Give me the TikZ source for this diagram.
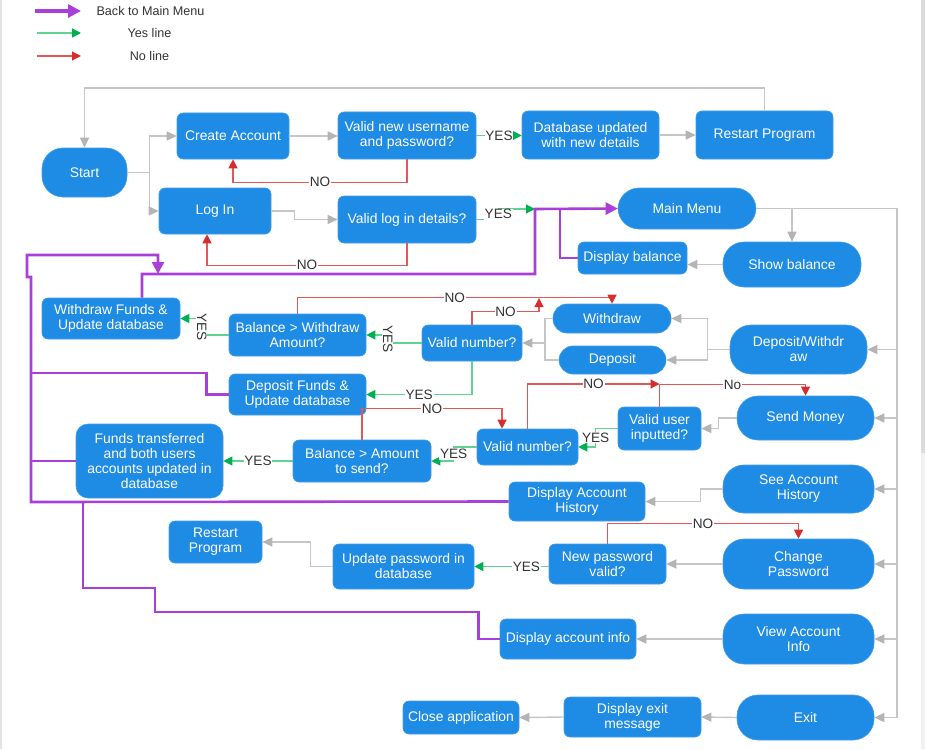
\documentclass[tikz,border=0pt]{standalone}
\usepackage{fontspec}
\setmainfont{Liberation Sans}
\usetikzlibrary{arrows.meta,calc}

\definecolor{boxblue}{RGB}{30,139,229}
\definecolor{boxedge}{RGB}{64,156,236}
\definecolor{flowgrey}{RGB}{198,198,198}
\definecolor{tipgrey}{RGB}{180,180,180}
\definecolor{nored}{RGB}{226,88,88}
\definecolor{tipred}{RGB}{214,45,45}
\definecolor{yesgreen}{RGB}{96,210,146}
\definecolor{tipgreen}{RGB}{0,176,80}
\definecolor{backpurple}{RGB}{169,62,216}
\definecolor{labelgrey}{RGB}{51,51,51}
\definecolor{edgegrey}{RGB}{228,228,228}
\definecolor{barlight}{RGB}{241,241,241}
\definecolor{bardark}{RGB}{218,218,218}

\begin{document}
\begin{tikzpicture}[x=1pt,y=-1pt,
  font=\fontsize{13.9}{15}\selectfont,
  sz/.style 2 args={minimum width=#1pt,minimum height=#2pt},
  box/.style={fill=boxblue,draw=boxedge,line width=0.6pt,rounded corners=6pt,
    text=white,align=center,inner sep=0pt},
  pill/.style={box,rounded corners=21pt},
  flow/.style={draw=flowgrey,line width=1.4pt},
  flowarrow/.style={flow,-{Triangle[length=10pt,width=9pt,color=tipgrey]}},
  noline/.style={draw=nored,line width=1.2pt,-{Triangle[length=9pt,width=9pt,color=tipred]}},
  yesline/.style={draw=yesgreen,line width=1.2pt,-{Triangle[length=9pt,width=9pt,color=tipgreen]}},
  backline/.style={draw=backpurple,line width=2.6pt},
  backarrow/.style={backline,-{Triangle[length=12pt,width=12pt]}},
  lbl/.style={fill=white,text=labelgrey,inner sep=0.8pt,font=\fontsize{13.6}{15}\selectfont},
  legendtext/.style={text=labelgrey,inner sep=0pt,font=\fontsize{12.6}{14}\selectfont}
]
\useasboundingbox (0,0) rectangle (925,749);

% window edges and scroll bar
\fill[edgegrey] (0,0) rectangle (2,749);
\fill[barlight] (921,0) rectangle (925,749);
\fill[bardark] (921,0) rectangle (925,453);

% ---------- legend ----------
\coordinate (lgpa) at (35,11);   \coordinate (lgpb) at (81,11);
\coordinate (lgga) at (37,33);   \coordinate (lggb) at (81,33);
\coordinate (lgra) at (37,56);   \coordinate (lgrb) at (81,56);
\draw[draw=backpurple,line width=3.6pt,-{Triangle[length=13pt,width=13pt]}] (lgpa) -- (lgpb);
\draw[yesline] (lgga) -- (lggb);
\draw[noline] (lgra) -- (lgrb);
\node[legendtext] (lgback) at (150.5,11) {Back to Main Menu};
\node[legendtext] (lgyes) at (149.5,33) {Yes line};
\node[legendtext] (lgno) at (149.5,56) {No line};

% ---------- nodes ----------
\node[pill,sz={85}{49}]  (start)     at (84.5,172.5) {Start};
\node[box,sz={112}{46}]  (create)    at (233,136)    {Create Account};
\node[box,sz={138}{47}]  (validnew)  at (407,135.5)  {Valid new username\\and password?};
\node[box,sz={112}{46}]  (login)     at (215,211)    {Log In};
\node[box,sz={138}{47}]  (validlog)  at (407,219.5)  {Valid log in details?};
\node[box,sz={137}{48}]  (dbupd)     at (590.5,135)  {Database updated\\with new details};
\node[box,sz={137}{48}]  (restarta)  at (764.5,135)  {Restart Program};
\node[pill,sz={138}{41}] (mainmenu)  at (687,208.5)  {Main Menu};
\node[box,sz={109}{32}]  (dispbal)   at (632.5,258)  {Display balance};
\node[pill,sz={138}{45}] (showbal)   at (792,264.5)  {Show balance};
\node[box,sz={138}{41}]  (wfunds)    at (111,318.5)  {Withdraw Funds \&\\Update database};
\node[box,sz={137}{42}]  (balw)      at (297.5,335)  {Balance > Withdraw\\Amount?};
\node[box,sz={100}{36}]  (validnuma) at (472,343)    {Valid number?};
\node[pill,sz={118}{29},rounded corners=14pt] (withdraw) at (612,318.5) {Withdraw};
\node[pill,sz={107}{28},rounded corners=14pt] (deposit)  at (612.5,360)  {Deposit};
\node[pill,sz={137}{49}] (depwd)     at (798.5,349.5) {Deposit/Withdr\\aw};
\node[box,sz={137}{41}]  (dfunds)    at (297.5,394.5) {Deposit Funds \&\\Update database};
\node[box,sz={147}{74},rounded corners=12pt] (funds) at (149.5,461)
  {Funds transferred\\and both users\\accounts updated in\\database};
\node[box,sz={138}{42}]  (balamt)    at (362,461)    {Balance > Amount\\to send?};
\node[box,sz={101}{36}]  (validnumb) at (527.5,447)  {Valid number?};
\node[box,sz={83}{43}]   (validuser) at (659.5,428.5) {Valid user\\inputted?};
\node[pill,sz={137}{44}] (sendmoney) at (805.5,418)  {Send Money};
\node[box,sz={136}{39}]  (disphist)  at (577,501.5)  {Display Account\\History};
\node[pill,sz={151}{48}] (seehist)   at (798.5,489)  {See Account\\History};
\node[box,sz={93}{42}]   (restartb)  at (215.5,542)  {Restart\\Program};
\node[box,sz={141}{45}]  (updpw)     at (403.5,566.5) {Update password in\\database};
\node[box,sz={117}{40}]  (newpw)     at (607.5,564)  {New password\\valid?};
\node[pill,sz={151}{50}] (changepw)  at (798.5,564)  {Change\\Password};
\node[box,sz={136}{40}]  (dispinfo)  at (568,639)    {Display account info};
\node[pill,sz={151}{50}] (viewinfo)  at (798.5,639)  {View Account\\Info};
\node[box,sz={116}{33}]  (closeapp)  at (461,717.5)  {Close application};
\node[box,sz={137}{40}]  (dispexit)  at (632.5,717)  {Display exit\\message};
\node[pill,sz={137}{45}] (exit)      at (805.5,717.5) {Exit};

% ---------- helper coordinates ----------
\coordinate (looptop) at (0,88);
\coordinate (busx) at (897,0);
\coordinate (mmjoin) at (535,209);
\coordinate (mmjoinb) at (560,209);
\coordinate (rail) at (0,274);
\coordinate (wdjoin) at (545,343);
\coordinate (nojoina) at (539,298);
\coordinate (nojoinb) at (659.5,384);
\coordinate (railarrow) at (158,274);

% ---------- ordinary flow (grey) ----------
\draw[flowarrow] (start.east) -- ++(22,0) |- (create.west);
\draw[flowarrow] (start.east) -- ++(22,0) |- (login.west);
\draw[flowarrow] (restarta.north) -- (restarta.north |- looptop) -| (start.north);
\draw[flowarrow] (create.east) -- (create.east -| validnew.west);
\draw[flowarrow] (login.east) -- ++(23,0) |- (validlog.west);
\draw[flowarrow] (dbupd.east) -- (restarta.west);
\draw[flow] (mainmenu.east) -- (mainmenu.east -| busx) -- (busx |- exit.east);
\draw[flowarrow] (mainmenu.east -| showbal.north) -- (showbal.north);
\foreach \n in {depwd,sendmoney,seehist,changepw,viewinfo,exit}
  \draw[flowarrow] (busx |- \n.east) -- (\n.east);
\draw[flowarrow] (showbal.west) -- (showbal.west -| dispbal.east);
\draw[flowarrow] (depwd.west) -- ++(-22,0) |- (withdraw.east);
\draw[flowarrow] (depwd.west) -- ++(-22,0) |- (deposit.east);
\draw[flow] (withdraw.west) -| (wdjoin) |- (deposit.west);
\draw[flowarrow] (wdjoin) -- (validnuma.east);
\draw[flowarrow] (sendmoney.west) -- ++(-18,0) |- (validuser.east);
\draw[flowarrow] (seehist.west) -- ++(-22,0) |- (disphist.east);
\draw[flowarrow] (updpw.west) -- ++(-22,0) |- (restartb.east);
\draw[flowarrow] (changepw.west) -- (newpw.east);
\draw[flowarrow] (viewinfo.west) -- (dispinfo.east);
\draw[flowarrow] (exit.west) -- (dispexit.east);
\draw[flowarrow] (dispexit.west) -- (closeapp.east);

% ---------- YES branches ----------
\draw[yesline] (validnew.east) -- (validnew.east -| dbupd.west) node[pos=0.5,lbl] {YES};
\draw[yesline] (validlog.east) -- ++(22,0) |- (mmjoin) node[pos=0.25,lbl] {YES};
\draw[yesline] (balw.west) -- ++(-27,0) |- (wfunds.east) node[pos=0.25,lbl,rotate=-90] {YES};
\draw[yesline] (validnuma.west) -- ++(-34,0) |- (balw.east) node[pos=0.25,lbl,rotate=-90] {YES};
\draw[yesline] (validnuma.south) |- (dfunds.east) node[pos=0.75,lbl] {YES};
\draw[yesline] (validnumb.west) -- ++(-23,0) |- (balamt.east) node[pos=0.25,lbl] {YES};
\draw[yesline] (balamt.west) -- (funds.east) node[pos=0.5,lbl] {YES};
\draw[yesline] (validuser.west) -- ++(-22,0) |- (validnumb.east) node[pos=0.25,lbl] {YES};
\draw[yesline] (updpw.east -| newpw.west) -- (updpw.east) node[pos=0.3,lbl] {YES};

% ---------- NO branches ----------
\draw[noline] (validnew.south) -- ++(0,23) -| (create.south) node[pos=0.25,lbl] {NO};
\draw[noline] (validlog.south) -- ++(0,22) -| ([xshift=-8pt]login.south) node[pos=0.25,lbl] {NO};
\draw[noline] (balw.north) -- ++(0,-16) -| (withdraw.north) node[pos=0.25,lbl] {NO};
\draw[noline] (validnuma.north) -- ++(0,-13) -| (nojoina) node[pos=0.25,lbl] {NO};
\draw[noline] (balamt.north) -- ++(0,-31) -| ([xshift=-25.5pt]validnumb.north) node[pos=0.25,lbl] {NO};
\draw[noline] (validnumb.north) |- (nojoinb) node[pos=0.75,lbl] {NO};
\draw[noline] (validuser.north) -- ++(0,-22) -| (sendmoney.north) node[pos=0.25,lbl] {No};
\draw[noline] (newpw.north) -- ++(0,-20) -| (changepw.north) node[pos=0.25,lbl] {NO};

% ---------- back to main menu (purple) ----------
\draw[backarrow] ([xshift=31pt]wfunds.north) |- (rail -| mmjoin) -- (mmjoin) -- (mainmenu.west);
\draw[backline] (dispbal.west) -| (mmjoinb);
\draw[backarrow] (disphist.west) -- (31,502) -- (31,277) -- (27,277) -- (27,255) -| (railarrow);
\draw[backline] (dfunds.west) -- ++(-22,0) |- (31,373);
\draw[backline] (funds.west) -- (31,461);
\draw[backline] (dispinfo.west) -- ++(-21,0) |- (155,612) |- (83,588) -- (83,502);

\end{tikzpicture}
\end{document}
